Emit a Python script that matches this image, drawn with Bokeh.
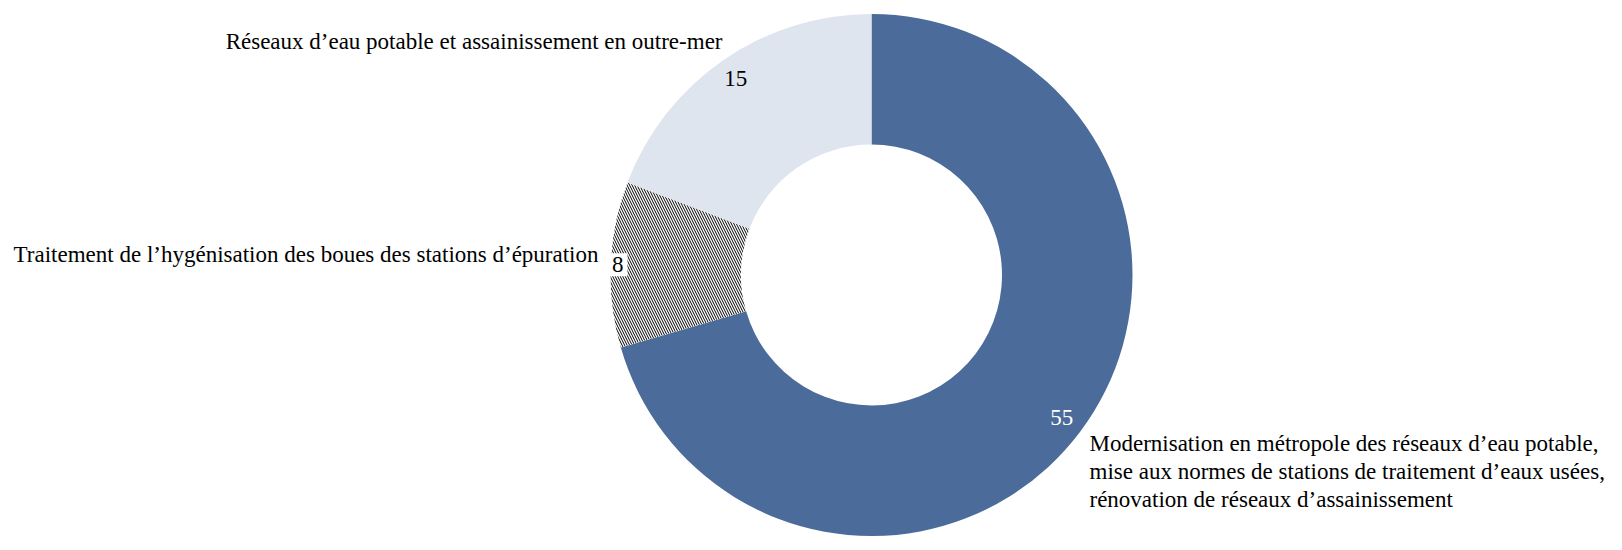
import math
from bokeh.plotting import figure
from bokeh.models import Range1d, ColumnDataSource, Label
from bokeh.core.properties import value
from bokeh.embed import file_html
from bokeh.resources import INLINE

# ---- data ----
categories = [
    "Modernisation en métropole des réseaux d\u2019eau potable,\nmise aux normes de stations de traitement d\u2019eaux usées,\nrénovation de réseaux d\u2019assainissement",
    "Traitement de l\u2019hygénisation des boues des stations d\u2019épuration",
    "Réseaux d\u2019eau potable et assainissement en outre-mer",
]
values = [55, 8, 15]

# ---- style / layout ----
colors = ["#4b6b9a", "#ffffff", "#dfe5ef"]
hatches = ["", "\\", ""]
W, H = 1606, 550
cx, cy = 871, 275.5
R_OUT, R_IN = 261, 130.5
FONT = "Liberation Serif"
FS = "23px"
value_r = [238, 254, 239]
value_colors = ["white", "black", "black"]
value_bg = [None, "white", None]
cat_offsets = [(218, -155.5, "left", "top"), (-273, 20.5, "right", "middle"), (-149, 233.5, "right", "middle")]

total = sum(values)
starts, ends, mids = [], [], []
acc = 0.0
for v in values:
    a0 = acc / total * 2 * math.pi
    acc += v
    a1 = acc / total * 2 * math.pi
    starts.append(math.pi / 2 - a0)
    ends.append(math.pi / 2 - a1)
    mids.append((a0 + a1) / 2)

p = figure(width=W, height=H, x_range=Range1d(0, W), y_range=Range1d(0, H),
           output_backend="svg", toolbar_location=None, min_border=0)
p.axis.visible = False
p.grid.visible = False
p.outline_line_color = None
p.background_fill_color = "white"

src = ColumnDataSource(dict(start=starts, end=ends, color=colors, hatch=hatches))
p.annular_wedge(x=cx, y=cy, inner_radius=R_IN, outer_radius=R_OUT,
                start_angle="start", end_angle="end", direction="clock",
                fill_color="color", line_color=None,
                hatch_pattern="hatch", hatch_color="black", hatch_scale=5, hatch_weight=1,
                source=src)

for i, v in enumerate(values):
    m = mids[i]
    lx = cx + value_r[i] * math.sin(m)
    ly = cy + value_r[i] * math.cos(m)
    kw = {}
    if value_bg[i]:
        kw = dict(background_fill_color=value_bg[i], padding=4)
    p.add_layout(Label(x=lx, y=ly, text=str(v), text_font=FONT, text_font_size=FS,
                       text_color=value_colors[i], text_align="center", text_baseline="middle", **kw))

for i, c in enumerate(categories):
    dx, dy, al, bl = cat_offsets[i]
    p.text(x=[cx + dx], y=[cy + dy], text=[c], text_font=value(FONT), text_font_size=FS,
           text_color="black", text_align=al, text_baseline=bl, text_line_height=1.13)

open("out.html", "w").write(file_html(p, INLINE))
